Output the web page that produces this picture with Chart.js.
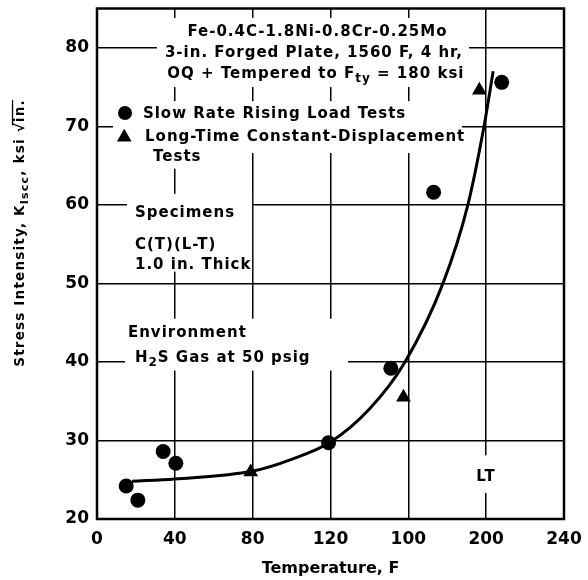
<!DOCTYPE html>
<html>
<head>
<meta charset="utf-8">
<script src="https://cdn.jsdelivr.net/npm/chart.js@4.4.0/dist/chart.umd.min.js"></script>
<style>
  html, body { margin: 0; padding: 0; background: #fff; }
  #wrap { width: 588px; height: 580px; }
</style>
</head>
<body>
<div id="wrap"><canvas id="kiscc-chart" width="588" height="580"></canvas></div>
<script>
// K_Iscc against test temperature, forged Fe-Ni-Cr-Mo plate in H2S gas
const xTickValues = [0, 40, 80, 120, 160, 200, 240]
const xTickLabels = ['0', '40', '80', '120', '100', '200', '240']

// slow rate rising load tests (filled circles)
const risingTemps = [15, 21, 34, 40.5, 119, 151, 173, 208]
const risingK = [24.2, 22.4, 28.6, 27.1, 29.7, 39.2, 61.6, 75.6]

// long-time constant-displacement tests (filled triangles)
const constTemps = [79, 157.5, 196.5]
const constK = [26.0, 35.5, 74.6]

// faired curve through the results
const curveTemps = [18, 40, 80, 100, 120, 140, 158.3, 177.8, 190.6, 198.9, 203.6]
const curveK = [24.8, 25.1, 26.1, 27.6, 29.8, 34.0, 40, 50, 60, 70, 77]

const FONT = 'DejaVu Sans'

// notes written on the plot, placed in data units; a part flagged true is a subscript
const notes = [
  {x: 113.3, y: 82.2, align: 'center', parts: [['Fe-0.4C-1.8Ni-0.8Cr-0.25Mo']]},
  {x: 111.5, y: 79.55, align: 'center', parts: [['3-in. Forged Plate, 1560 F, 4 hr,']]},
  {x: 112.5, y: 76.9, align: 'center', parts: [['OQ + Tempered to F'], ['ty', true], [' = 180 ksi']]},
  {x: 23.6, y: 71.7, parts: [['Slow Rate Rising Load Tests']]},
  {x: 24.7, y: 68.8, parts: [['Long-Time Constant-Displacement']]},
  {x: 28.8, y: 66.3, parts: [['Tests']]},
  {x: 19.5, y: 59.2, parts: [['Specimens']]},
  {x: 19.5, y: 55.1, parts: [['C(T)(L-T)']]},
  {x: 19.5, y: 52.55, parts: [['1.0 in. Thick']]},
  {x: 15.9, y: 43.9, parts: [['Environment']]},
  {x: 19.5, y: 40.75, parts: [['H'], ['2', true], ['S Gas at 50 psig']]},
  {x: 199.9, y: 25.5, align: 'center', parts: [['LT']]}
]

// white patches the notes sit on: [x0, x1, y0, y1]
const masks = [
  [30.8, 191.2, 75.0, 83.8],
  [8.2, 187.5, 66.6, 73.2],
  [22, 54, 64.6, 67.5],
  [15.4, 79.7, 51.5, 61.4],
  [14.4, 129, 38.9, 45.5],
  [193.9, 206.7, 23.3, 28.1]
]

// legend symbols: [x, y, style]
const keyMarks = [[14.4, 71.7, 'circle'], [14.0, 68.6, 'triangle']]

function setFont(ctx, size) {
  ctx.font = `bold ${size}px "${FONT}"`
}

// writes a run of text with subscripts, y is the middle of the capitals
function drawRich(ctx, parts, x, y, align, size, spacing) {
  const subSize = Math.round(size * 0.78)
  ctx.letterSpacing = spacing + 'px'
  const widths = parts.map(([t, sub]) => {
    setFont(ctx, sub ? subSize : size)
    return ctx.measureText(t).width
  })
  const total = widths.reduce((a, b) => a + b, 0)
  let cx = align === 'center' ? x - total / 2 : x
  const base = y + size * 0.365
  const starts = []
  parts.forEach(([t, sub], i) => {
    setFont(ctx, sub ? subSize : size)
    starts.push(cx)
    ctx.fillText(t, cx, sub ? base + size * 0.3 : base)
    cx += widths[i]
  })
  starts.push(cx)
  return starts
}

function mark(ctx, style, px, py, r) {
  ctx.beginPath()
  if (style === 'circle') {
    ctx.arc(px, py, r, 0, Math.PI * 2)
  } else {
    const h = r * Math.sin(Math.PI / 3)
    ctx.moveTo(px, py - r)
    ctx.lineTo(px + h, py + r / 2)
    ctx.lineTo(px - h, py + r / 2)
    ctx.closePath()
  }
  ctx.fill()
}

const annotate = {
  id: 'annotate',
  beforeDatasetsDraw(chart) {
    const {ctx, chartArea: a, scales: {x, y}} = chart
    ctx.save()
    ctx.fillStyle = '#fff'
    masks.forEach(([x0, x1, y0, y1]) => {
      const l = x.getPixelForValue(x0), r = x.getPixelForValue(x1)
      const t = y.getPixelForValue(y1), b = y.getPixelForValue(y0)
      ctx.fillRect(l, t, r - l, b - t)
    })
    ctx.fillStyle = '#000'
    ctx.textBaseline = 'alphabetic'
    ctx.textAlign = 'left'
    notes.forEach(n => {
      drawRich(ctx, n.parts, x.getPixelForValue(n.x), y.getPixelForValue(n.y), n.align, 15, 1)
    })
    keyMarks.forEach(([kx, ky, style]) => {
      mark(ctx, style, x.getPixelForValue(kx), y.getPixelForValue(ky), style === 'circle' ? 7 : 8.5)
    })
    // frame round the plot
    ctx.lineWidth = 2.5
    ctx.strokeStyle = '#000'
    ctx.strokeRect(a.left, a.top, a.width, a.height)

    // vertical axis title
    ctx.translate(19, 233)
    ctx.rotate(-Math.PI / 2)
    const s = drawRich(ctx, [['Stress Intensity, K'], ['Iscc', true], [', ksi '], ['\u221A'], ['in.']], 0, 0, 'center', 13.5, 1.2)
    setFont(ctx, 13.5)
    const asc = ctx.measureText('\u221A').actualBoundingBoxAscent
    ctx.lineWidth = 1.3
    ctx.beginPath()
    ctx.moveTo(s[3] + 7, 13.5 * 0.365 - asc + 0.6)
    ctx.lineTo(s[5] - 1, 13.5 * 0.365 - asc + 0.6)
    ctx.stroke()
    ctx.restore()
  }
}

const tickFont = {family: FONT, size: 17, weight: 'bold'}
const titleFont = {family: FONT, size: 16, weight: 'bold'}

new Chart(document.querySelector('#kiscc-chart').getContext('2d'), {
  type: 'scatter',
  data: {
    datasets: [
      {
        label: 'Trend',
        data: curveTemps.map((t, i) => ({x: t, y: curveK[i]})),
        showLine: true,
        borderColor: '#000',
        borderWidth: 3,
        pointRadius: 0,
        cubicInterpolationMode: 'monotone',
        fill: false
      },
      {
        label: 'Slow Rate Rising Load Tests',
        data: risingTemps.map((t, i) => ({x: t, y: risingK[i]})),
        pointStyle: 'circle',
        pointRadius: 7.5,
        backgroundColor: '#000',
        borderColor: '#000',
        borderWidth: 0
      },
      {
        label: 'Long-Time Constant-Displacement Tests',
        data: constTemps.map((t, i) => ({x: t, y: constK[i]})),
        pointStyle: 'triangle',
        pointRadius: 8.5,
        backgroundColor: '#000',
        borderColor: '#000',
        borderWidth: 0
      }
    ]
  },
  options: {
    responsive: false,
    animation: false,
    layout: {padding: {top: 8, right: 24, bottom: 0, left: 0}},
    plugins: {legend: {display: false}, tooltip: {enabled: false}},
    scales: {
      x: {
        type: 'linear',
        min: 0,
        max: 240,
        afterFit: s => { s.height = 61; s.paddingLeft = 0; s.paddingRight = 0 },
        afterBuildTicks: s => { s.ticks = xTickValues.map(v => ({value: v})) },
        ticks: {
          callback: v => xTickLabels[xTickValues.indexOf(v)],
          font: tickFont,
          color: '#000',
          padding: 10,
          maxRotation: 0,
          autoSkip: false
        },
        grid: {color: '#000', lineWidth: 1.5, drawTicks: false},
        border: {display: false},
        title: {display: true, text: 'Temperature, F', font: titleFont, color: '#000', padding: {top: 0, bottom: 2}}
      },
      y: {
        min: 20,
        max: 85,
        afterFit: s => { s.width = 97; s.paddingTop = 0; s.paddingBottom = 0 },
        ticks: {stepSize: 10, includeBounds: false, font: tickFont, color: '#000', padding: 8},
        grid: {color: '#000', lineWidth: 1.5, drawTicks: false},
        border: {display: false}
      }
    }
  },
  plugins: [annotate]
})
</script>
</body>
</html>
